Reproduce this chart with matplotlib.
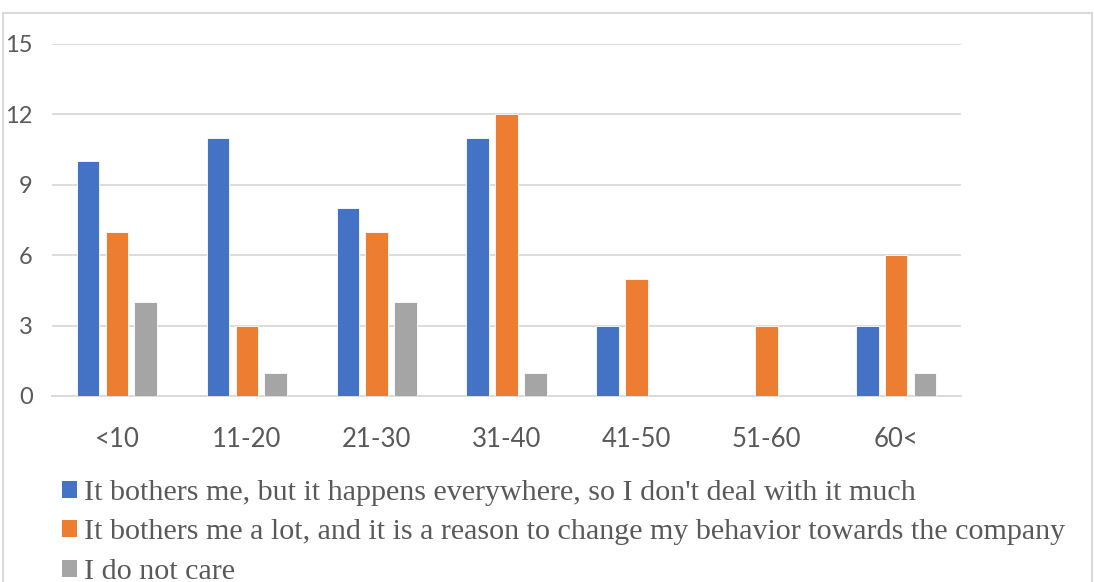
import numpy as np
import matplotlib.pyplot as plt
from matplotlib.patches import Patch, Rectangle

# Age groups and answer counts
age_groups = ["<10", "11-20", "21-30", "31-40", "41-50", "51-60", "60<"]
everywhere = [10, 11, 8, 11, 3, 0, 3]
change_behavior = [7, 3, 7, 12, 5, 3, 6]
dont_care = [4, 1, 4, 1, 0, 0, 1]

series_names = [
    "It bothers me, but it happens everywhere, so I don't deal with it much",
    "It bothers me a lot, and it is a reason to change my behavior towards the company",
    "I do not care",
]
colors = ["#4472c4", "#ed7d31", "#a5a5a5"]
y_ticks = [0, 3, 6, 9, 12, 15]

fig = plt.figure(figsize=(10.94, 5.82), dpi=100)
ax = fig.add_axes([0.0475, 0.3196, 0.831, 0.6048])

# light frame round the whole chart
fig.patches.append(Rectangle((0.003, -0.05), 0.995, 1.028, transform=fig.transFigure,
                             fill=False, edgecolor="#d9d9d9", linewidth=1.5))

x = np.arange(len(age_groups))
width = 0.173
step = 0.222
for i, (vals, col) in enumerate(zip([everywhere, change_behavior, dont_care], colors)):
    ax.bar(x + (i - 1) * step, vals, width, color=col, edgecolor="white",
           linewidth=0.6, zorder=3)

ax.set_xlim(-0.5, len(age_groups) - 0.5)
ax.set_ylim(0, 15)
ax.set_yticks(y_ticks)
ax.set_xticks(x)
ax.set_xticklabels(age_groups, fontsize=18.5, color="#595959", family="Lato")
ax.set_yticklabels([str(t) for t in y_ticks], fontsize=17, color="#595959", family="Lato")
ax.tick_params(axis="both", length=0)
ax.tick_params(axis="y", pad=14)
ax.tick_params(axis="x", pad=22)
ax.grid(axis="y", color="#d9d9d9", linewidth=1.3, zorder=0)
for s in ["top", "right", "left"]:
    ax.spines[s].set_visible(False)
ax.spines["bottom"].set_color("#d9d9d9")
ax.spines["bottom"].set_linewidth(1.3)

handles = [Patch(facecolor=c, edgecolor="none") for c in colors]
fig.legend(handles, series_names, loc="upper left", bbox_to_anchor=(0.0456, 0.196),
           frameon=False, prop={"family": "Liberation Serif", "size": 21.6},
           labelcolor="#595959", handlelength=0.5, handleheight=0.5,
           handletextpad=0.25, labelspacing=0.45, borderaxespad=0)

fig.savefig("out.png", dpi=100)
